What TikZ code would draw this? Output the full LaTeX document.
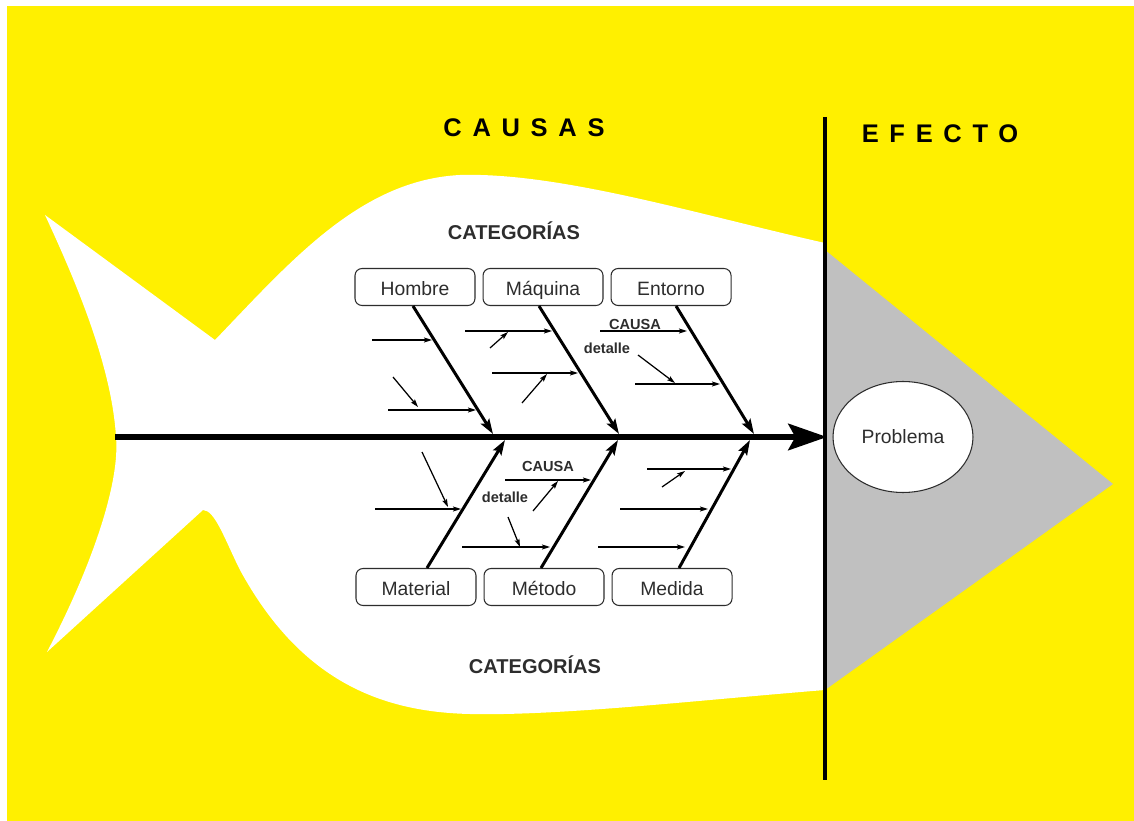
\documentclass[tikz,border=0pt]{standalone}
\usepackage{fontspec}
\setmainfont{Liberation Sans}
\newfontfamily\titulo[LetterSpace=42]{Liberation Sans}
\usepackage{tikz}
\usetikzlibrary{arrows.meta,shapes.geometric,positioning,calc}
\definecolor{fondo}{RGB}{255,240,0}
\definecolor{cabeza}{RGB}{192,192,192}
\definecolor{texto}{RGB}{45,45,45}

\begin{document}
\begin{tikzpicture}[x=0.02cm,y=-0.02cm,
    categoria/.style={draw=texto,line width=0.6pt,rounded corners=4pt,minimum width=2.4cm,minimum height=0.74cm,inner sep=0pt,text height=10pt,text depth=0pt,text=texto,font=\fontsize{11}{13}\selectfont},
    espina/.style={line width=1.7pt,-{Stealth[length=8.5pt,width=5.5pt,inset=1.5pt]}},
    causa/.style={line width=0.7pt,-{Stealth[length=4.5pt,width=2.8pt,inset=0.8pt]}},
    rotulo/.style={text=texto,font=\bfseries\fontsize{8.3}{10}\selectfont},
    titulo/.style={font=\titulo\bfseries\fontsize{14.5}{16}\selectfont}]
        \useasboundingbox (0,0) rectangle (1134,821);
        \fill[white] (0,0) rectangle (1134,821);
        \fill[fondo] (7,6) rectangle (1134,821);
        \fill[white] (45,215) -- (215,340) .. controls (290,262) and (360,180) .. (460,175)
            .. controls (560,172) and (700,215) .. (825,243) -- (825,690)
            .. controls (700,700) and (560,716) .. (470,714) .. controls (380,712) and (300,680) .. (240,570)
            .. controls (225,540) and (215,510) .. (203,510) -- (47,652)
            .. controls (95,560) and (120,480) .. (116,437) .. controls (112,370) and (80,290) .. (45,215) -- cycle;
        \fill[cabeza] (825,250) -- (1113,484) -- (825,690) -- cycle;

        \node[titulo] (causas) at (524,128) {CAUSAS};
        \node[titulo] (efecto) at (940,134) {EFECTO};
        \node[font=\bfseries\fontsize{11.4}{13}\selectfont,text=texto] (catarriba) at (514,231) {CATEGORÍAS};
        \node[font=\bfseries\fontsize{11.4}{13}\selectfont,text=texto] (catabajo) at (535,665) {CATEGORÍAS};

        \coordinate (arriba) at (825,117);
        \coordinate (abajo) at (825,780);
        \draw[line width=2pt] (arriba) -- (abajo);
        \coordinate (cola) at (115,437);
        \coordinate (boca) at (827,437);
        \draw[line width=3.4pt,-{Stealth[length=22pt,width=15pt,inset=4pt]}] (cola) -- (boca);
        \node[ellipse,draw=texto,line width=0.6pt,fill=white,minimum width=2.8cm,minimum height=2.22cm,text=texto,font=\fontsize{11}{13}\selectfont] (problema) at (903,437) {Problema};

        \node[categoria] (hombre) at (415,287) {Hombre};
        \node[categoria,right=0.14cm of hombre] (maquina) {Máquina};
        \node[categoria,right=0.14cm of maquina] (entorno) {Entorno};
        \node[categoria] (material) at (416,587) {Material};
        \node[categoria,right=0.14cm of material] (metodo) {Método};
        \node[categoria,right=0.14cm of metodo] (medida) {Medida};

        \foreach \n/\x/\y in {t1/493/434, t2/619/434, t3/754/434, b1/505/440, b2/618/440, b3/750/440}
        \coordinate (\n) at (\x,\y);
        \draw[espina] ($(hombre.south)+(-2,0)$) -- (t1);
        \draw[espina] ($(maquina.south)+(-4,0)$) -- (t2);
        \draw[espina] ($(entorno.south)+(5,0)$) -- (t3);
        \draw[espina] ($(material.north)+(11,0)$) -- (b1);
        \draw[espina] ($(metodo.north)+(-3,0)$) -- (b2);
        \draw[espina] ($(medida.north)+(7,0)$) -- (b3);

        \node[rotulo] (causa1) at (635,324) {CAUSA};
        \node[rotulo] (detalle1) at (607,348) {detalle};
        \node[rotulo] (causa2) at (548,466) {CAUSA};
        \node[rotulo] (detalle2) at (505,497) {detalle};

        \foreach \n/\x/\y in {c1/372/340, d1/432/340, c2/388/410, d2/476/410, c3/393/377, d3/418/407,
            c4/465/331, d4/552/331, c5/490/348, d5/508/332, c6/492/373, d6/578/373, c7/522/403, d7/547/374,
            c8/600/331, d8/687/331, c9/638/355, d9/675/383, c10/635/384, d10/720/384,
            c11/422/452, d11/448/507, c12/375/509, d12/461/509, c13/505/480, d13/591/480,
            c14/533/511, d14/558/481, c15/508/517, d15/520/547, c16/462/547, d16/550/547,
            c17/647/469, d17/731/469, c18/662/487, d18/685/471, c19/620/509, d19/708/509, c20/598/547, d20/685/547}
        \coordinate (\n) at (\x,\y);
        \foreach \i in {1,...,20}
        \draw[causa] (c\i) -- (d\i);
\end{tikzpicture}
\end{document}
